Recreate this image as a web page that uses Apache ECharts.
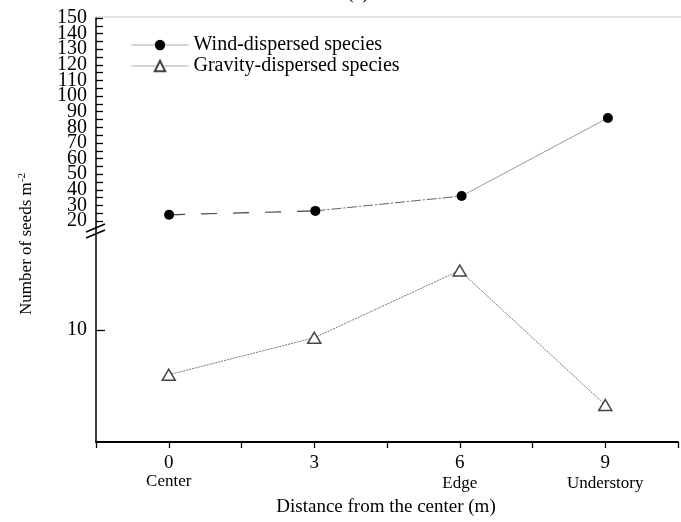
<!DOCTYPE html>
<html>
<head>
<meta charset="utf-8">
<script src="https://cdn.jsdelivr.net/npm/echarts@6/dist/echarts.min.js"></script>
<style>
html,body{margin:0;padding:0;background:#fff;}
#chart{width:681px;height:522px;}
</style>
</head>
<body>
<div id="chart"></div>
<script>
// ---- data ----
const xValues = [0, 3, 6, 9];
const xNames = ['Center', '', 'Edge', 'Understory'];
const windSeeds = [24, 26.5, 36, 86];
const gravitySeeds = [6.0, 9.3, 15.3, 3.3];
const upperTickValues = [20, 25, 30, 35, 40, 45, 50, 55, 60, 65, 70, 75, 80, 85, 90, 95, 100, 105, 110, 115, 120, 125, 130, 135, 140, 145, 150];
const upperLabelValues = [20, 30, 40, 50, 60, 70, 80, 90, 100, 110, 120, 130, 140, 150];
const lowerLabelValues = [10];
const seriesNames = ['Wind-dispersed species', 'Gravity-dispersed species'];

const FONT = 'Liberation Serif';
const pairs = (ys, from, to) => xValues.slice(from, to).map((x, i) => [x, ys[from + i]]);
// split labels in two interleaved sets so that neighbouring labels never get auto-hidden
const labelsA = upperLabelValues.filter((v, i) => i % 2 === 0);
const labelsB = upperLabelValues.filter((v, i) => i % 2 === 1);

const chart = echarts.init(document.getElementById('chart'), null, {renderer: 'canvas'});

const yBase = {
  type: 'value',
  axisLine: {show: true, onZero: false, lineStyle: {color: '#000', width: 1.5}},
  splitLine: {show: false},
  axisLabel: {fontFamily: FONT, fontSize: 20, color: '#000', margin: 9, showMinLabel: true, showMaxLabel: true, hideOverlap: false},
  axisTick: {inside: true, length: 7, lineStyle: {color: '#000', width: 1.3}}
};
const xBase = {
  type: 'value', min: -1.5, max: 10.5, interval: 1.5,
  splitLine: {show: false}
};

const option = {
  animation: false,
  backgroundColor: '#fff',
  grid: [
    {left: 96, width: 594, top: 18, height: 211},
    {left: 96, width: 594, top: 229, height: 213}
  ],
  xAxis: [
    Object.assign({}, xBase, {gridIndex: 0, show: false}),
    Object.assign({}, xBase, {
      gridIndex: 1,
      axisLine: {show: true, onZero: false, lineStyle: {color: '#000', width: 1.8}},
      axisTick: {show: true, inside: false, length: 6, lineStyle: {color: '#000', width: 1.3}},
      axisLabel: {
        margin: 11,
        showMinLabel: true, showMaxLabel: true,
        formatter: function (v) {
          const i = xValues.indexOf(v);
          if (i < 0) return '';
          if (!xNames[i]) return '{n|' + v + '}';
          return '{n|' + v + '}\n{' + (i === 0 ? 'a' : 'b') + '|' + xNames[i] + '}';
        },
        rich: {
          n: {fontFamily: FONT, fontSize: 19, lineHeight: 20, color: '#000'},
          a: {fontFamily: FONT, fontSize: 17, lineHeight: 17, color: '#000'},
          b: {fontFamily: FONT, fontSize: 17, lineHeight: 17, color: '#000', padding: [5, 0, 0, 0]}
        }
      }
    })
  ],
  yAxis: [
    Object.assign({}, yBase, {
      gridIndex: 0, min: 14.9, max: 150,
      axisTick: Object.assign({}, yBase.axisTick, {customValues: upperTickValues}),
      axisLabel: Object.assign({}, yBase.axisLabel, {customValues: labelsA})
    }),
    Object.assign({}, yBase, {
      gridIndex: 1, min: 0, max: 19,
      axisTick: Object.assign({}, yBase.axisTick, {customValues: lowerLabelValues, length: 9}),
      axisLabel: Object.assign({}, yBase.axisLabel, {customValues: lowerLabelValues})
    }),
    Object.assign({}, yBase, {
      gridIndex: 0, min: 14.9, max: 150, position: 'left', offset: 0,
      axisLine: {show: false, onZero: false},
      axisTick: {show: false},
      axisLabel: Object.assign({}, yBase.axisLabel, {customValues: labelsB})
    })
  ],
  legend: {
    orient: 'vertical', left: 131, top: 35, padding: 0,
    itemWidth: 57, itemHeight: 13, itemGap: 1,
    data: seriesNames,
    textStyle: {fontFamily: FONT, fontSize: 20, color: '#000', lineHeight: 20},
    lineStyle: {color: '#aaa', width: 1, type: 'solid', opacity: 1}
  },
  series: [
    {type: 'line', xAxisIndex: 0, yAxisIndex: 0, data: pairs(windSeeds, 0, 2), symbol: 'none', silent: true,
     lineStyle: {color: '#444', width: 1.2, type: [16, 16]}},
    {type: 'line', xAxisIndex: 0, yAxisIndex: 0, data: pairs(windSeeds, 1, 3), symbol: 'none', silent: true,
     lineStyle: {color: '#666', width: 1, type: [10, 2, 2, 2]}},
    {type: 'line', xAxisIndex: 0, yAxisIndex: 0, data: pairs(windSeeds, 2, 4), symbol: 'none', silent: true,
     lineStyle: {color: '#999', width: 1}},
    {name: seriesNames[0], type: 'line', xAxisIndex: 0, yAxisIndex: 0, data: pairs(windSeeds, 0, 4),
     symbol: 'circle', symbolSize: 10, z: 5,
     itemStyle: {color: '#000'},
     lineStyle: {opacity: 0, width: 0}},
    {name: seriesNames[1], type: 'line', xAxisIndex: 1, yAxisIndex: 1, data: pairs(gravitySeeds, 0, 4),
     symbol: 'triangle', symbolSize: [13, 11], z: 5,
     itemStyle: {color: '#fff', borderColor: '#444', borderWidth: 1.5},
     lineStyle: {color: '#777', width: 1, type: [2, 1]}}
  ],
  graphic: [
    {type: 'text', x: 358, y: 3, silent: true,
     style: {text: '(a)', fontFamily: FONT, fontSize: 20, fill: '#000', align: 'center', verticalAlign: 'bottom'}},
    {type: 'line', silent: true, shape: {x1: 96, y1: 17, x2: 681, y2: 17},
     style: {stroke: '#d8d8d8', lineWidth: 1.5}},
    {type: 'line', silent: true, shape: {x1: 86, y1: 232, x2: 105, y2: 224},
     style: {stroke: '#000', lineWidth: 1.5}},
    {type: 'line', silent: true, shape: {x1: 86, y1: 238, x2: 105, y2: 230},
     style: {stroke: '#000', lineWidth: 1.5}},
    {type: 'text', x: 27, y: 244, rotation: Math.PI / 2, silent: true,
     style: {
       text: '{a|Number of seeds m}{s|-2}',
       align: 'center', verticalAlign: 'middle',
       rich: {
         a: {fontFamily: FONT, fontSize: 17, lineHeight: 20, fill: '#000'},
         s: {fontFamily: FONT, fontSize: 11, lineHeight: 11, fill: '#000', verticalAlign: 'top'}
       }
     }},
    {type: 'text', x: 386, y: 507, silent: true,
     style: {text: 'Distance from the center (m)', fontFamily: FONT, fontSize: 19, fill: '#000', align: 'center', verticalAlign: 'middle'}}
  ]
};
chart.setOption(option);
</script>
</body>
</html>
